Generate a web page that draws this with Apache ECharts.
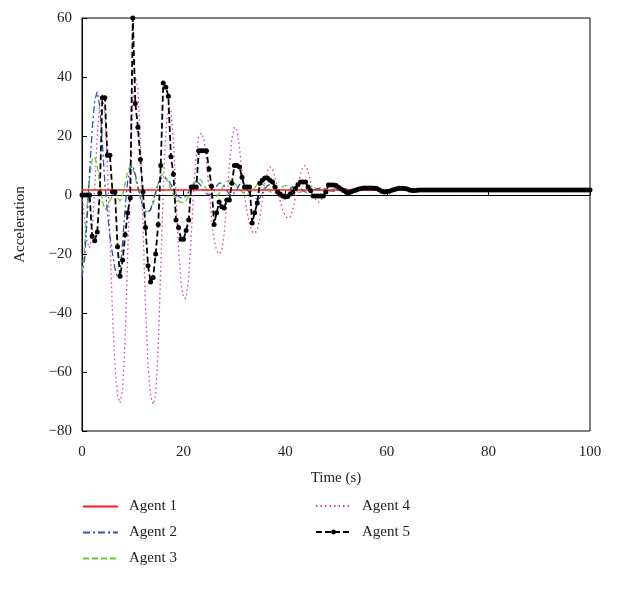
<!DOCTYPE html>
<html>
<head>
<meta charset="utf-8">
<script src="https://cdn.jsdelivr.net/npm/echarts@6/dist/echarts.min.js"></script>
<style>
html,body{margin:0;padding:0;background:#fff;}
#chart{width:626px;height:596px;}
</style>
</head>
<body>
<div id="chart"></div>
<script>
// ---- data ----
const seriesNames = ['Agent 1', 'Agent 2', 'Agent 3', 'Agent 4', 'Agent 5'];
const xTicks = [0, 20, 40, 60, 80, 100];
const yTicks = [-80, -60, -40, -20, 0, 20, 40, 60];

// sample times 0..60 s (0.5 s step)
const timeA = [
  0,0.5,1,1.5,2,2.5,3,3.5,4,4.5, 5,5.5,6,6.5,7,7.5,8,8.5,9,9.5,
  10,10.5,11,11.5,12,12.5,13,13.5,14,14.5, 15,15.5,16,16.5,17,17.5,18,18.5,19,19.5,
  20,20.5,21,21.5,22,22.5,23,23.5,24,24.5, 25,25.5,26,26.5,27,27.5,28,28.5,29,29.5,
  30,30.5,31,31.5,32,32.5,33,33.5,34,34.5, 35,35.5,36,36.5,37,37.5,38,38.5,39,39.5,
  40,40.5,41,41.5,42,42.5,43,43.5,44,44.5, 45,45.5,46,46.5,47,47.5,48,48.5,49,49.5,
  50,50.5,51,51.5,52,52.5,53,53.5,54,54.5, 55,55.5,56,56.5,57,57.5,58,58.5,59,59.5,
  60
];
// sample times 60.5..100 s
const timeB = [
  60.5,61,61.5,62,62.5,63,63.5,64,64.5,65,65.5,66,66.5,67,67.5,68,68.5,69,69.5,70,
  70.5,71,71.5,72,72.5,73,73.5,74,74.5,75,75.5,76,76.5,77,77.5,78,78.5,79,79.5,80,
  80.5,81,81.5,82,82.5,83,83.5,84,84.5,85,85.5,86,86.5,87,87.5,88,88.5,89,89.5,90,
  90.5,91,91.5,92,92.5,93,93.5,94,94.5,95,95.5,96,96.5,97,97.5,98,98.5,99,99.5,100
];

const agent1Time = [0, 100];
const agent1 = [1.7, 1.7];

// Agents 2-4: values at timeA, then final value at t = 100
const agent2 = [
  -28,-22,-8,8,22,32,35,30,18,4,  -6,-14,-20,-25,-28,-26,-16,-4,5,9,
  10,7,3,-1,-4,-5.5,-6,-5,-2,1,  4,5.5,6,5.5,5,3.5,2,0.5,-0.5,-1,
  -1,-0.5,1,2.5,4,4.5,4,3,1.5,0.5,  0,0.5,1.5,3,4,4,3,1.5,0.3,0,
  0.8,2,3.5,4,3.5,2,0.5,-0.5,-1,-1.5,  -1,0.5,2,3.2,3.5,3,2,1,0.5,0.3,
  0.5,1,2,2.8,3,2.8,2.2,1.5,1,0.8,  1,1.4,1.8,2.2,2.4,2.3,2,1.6,1.3,1.3,
  1.5,1.8,2,2.1,2,1.8,1.6,1.5,1.5,1.6,  1.7,1.8,1.9,1.9,1.8,1.7,1.6,1.6,1.7,1.7,
  1.7
];
const agent3 = [
  -26,-18,-4,6,12,13,10,4,-2,-5,  -4,-2,0,1,-1,-2,0,4,8,10,
  9,6,2,-1,-3,-5,-5.5,-5,-3,0,  4,6.5,7,6,4,2,0,-1,-2,-2.5,
  -2.5,-2,-0.5,1.5,3.5,5,5.5,5,3.5,2,  0.5,-0.5,-1,-0.5,0.5,2,3.5,4.5,5,4.5,
  4,3,2,1,0.3,0,0.5,1.5,2.5,3.5,  4,3.8,3,2,1.2,0.8,0.8,1.2,2,2.8,
  3.2,3.2,2.8,2.2,1.5,1,1,1.3,1.8,2.3,  2.6,2.6,2.3,1.9,1.5,1.3,1.3,1.5,1.8,2.1,
  2.2,2.1,1.9,1.6,1.5,1.5,1.6,1.8,1.9,1.9,  1.8,1.7,1.6,1.6,1.7,1.7,1.8,1.8,1.7,1.7,
  1.7
];
const agent4 = [
  0,-8,-16,-18,-12,2,20,31,34,28,  10,-15,-40,-58,-68,-70.5,-66,-48,-20,10,
  32,40,36,18,-10,-38,-58,-68,-71,-68,  -52,-25,2,22,30,29,18,0,-18,-30,
  -35,-35,-28,-14,2,14,20,21,19,12,  2,-8,-15,-19,-20,-19,-13,-2,10,19,
  23,22,16,8,0,-6,-10,-12.5,-13,-12,  -8,-2,4,8,9.5,9,6,2,-2,-5,
  -7,-8,-7.5,-5,-1,3,7,9.5,10,8,  4.5,1,-1.5,-2.5,-2,-0.5,1.5,3,3.5,3.2,
  2.5,1.8,1.2,1,1.2,1.5,1.9,2.2,2.3,2.2,  2,1.8,1.6,1.5,1.5,1.6,1.7,1.8,1.8,1.8,
  1.7
];
const agentEndValue = 1.7;

// Agent 5: values at timeA then timeB
const agent5 = [
  0,0,0,0,-14,-15.5,-12.5,0.7,33,33,  13.5,13.5,1,1,-17.5,-27.5,-22,-13.5,-6,-1,
  60,31,23,12,1,-11,-24,-29.5,-28,-20,  -10,10,38,36.5,33.5,13,7,-8.5,-11,-15,
  -15,-12,-8.5,2.7,2.7,2.7,15,15,15,15,  8.8,3,-10,-6,-2.4,-4,-4.4,-1.7,-1.7,4,
  10,10,9.5,6,2.7,2.7,2.7,-9.5,-6,-2.7,  4,5,5.8,5.8,5,4.4,2.7,1,0.3,-0.3,
  -0.7,-0.5,0.3,0.9,2.2,3.5,4.4,4.4,4.4,2.7,  1.5,-0.3,-0.3,-0.3,-0.3,-0.3,1,3.4,3.4,3.4,
  3.2,2.6,2,1.5,0.9,0.7,1.1,1.4,1.7,2,  2.2,2.4,2.4,2.4,2.4,2.3,2.2,1.8,1.3,1,
  1.1,
  1.3,1.6,1.9,2.1,2.3,2.3,2.2,2,1.7,1.5,1.5,1.6,1.7,1.7,1.7,1.7,1.7,1.7,1.7,1.7,
  1.7,1.7,1.7,1.7,1.7,1.7,1.7,1.7,1.7,1.7,1.7,1.7,1.7,1.7,1.7,1.7,1.7,1.7,1.7,1.7,
  1.7,1.7,1.7,1.7,1.7,1.7,1.7,1.7,1.7,1.7,1.7,1.7,1.7,1.7,1.7,1.7,1.7,1.7,1.7,1.7,
  1.7,1.7,1.7,1.7,1.7,1.7,1.7,1.7,1.7,1.7,1.7,1.7,1.7,1.7,1.7,1.7,1.7,1.7,1.7,1.7
];

// ---- build ----
function pairs(ts, vs) { return ts.map((t, i) => [t, vs[i]]); }
const timeAB = timeA.concat([100]);
const timeFull = timeA.concat(timeB);

const FONT = "'Liberation Serif', 'DejaVu Serif', serif";
const chart = echarts.init(document.getElementById('chart'), null, {renderer: 'canvas'});

const minus = v => String(v).replace('-', '\u2212');
const legendText = {fontFamily: FONT, fontSize: 15, color: '#222', padding: [0, 0, 0, 6]};
const noDot = {opacity: 0};

const option = {
  animation: false,
  backgroundColor: '#ffffff',
  grid: {left: 82, top: 18, width: 508, height: 413, show: true, borderColor: '#000', borderWidth: 1, backgroundColor: 'transparent'},
  xAxis: {
    type: 'value', min: 0, max: 100, interval: 20,
    name: 'Time (s)', nameLocation: 'middle', nameGap: 40,
    nameTextStyle: {fontFamily: FONT, fontSize: 15, color: '#222'},
    axisLine: {show: true, lineStyle: {color: '#000', width: 1}},
    axisTick: {show: true, inside: true, length: 5, lineStyle: {color: '#000'}},
    axisLabel: {fontFamily: FONT, fontSize: 15, color: '#222', margin: 14, formatter: v => xTicks.includes(v) ? String(v) : ''},
    splitLine: {show: false}
  },
  yAxis: {
    type: 'value', min: -80, max: 60, interval: 20,
    name: 'Acceleration', nameLocation: 'middle', nameGap: 54,
    nameTextStyle: {fontFamily: FONT, fontSize: 15, color: '#222'},
    axisLine: {show: true, lineStyle: {color: '#000', width: 1}},
    axisTick: {show: true, inside: true, length: 5, lineStyle: {color: '#000'}},
    axisLabel: {fontFamily: FONT, fontSize: 15, color: '#222', margin: 10, formatter: v => yTicks.includes(v) ? minus(v) : ''},
    splitLine: {show: false}
  },
  legend: [
    {
      data: [
        {name: seriesNames[0], itemStyle: noDot},
        {name: seriesNames[1], itemStyle: noDot},
        {name: seriesNames[2], itemStyle: noDot}
      ],
      orient: 'vertical', left: 82, top: 499, padding: 0, itemGap: 11, itemWidth: 35, itemHeight: 16,
      textStyle: legendText
    },
    {
      data: [
        {name: seriesNames[3], itemStyle: noDot},
        {name: seriesNames[4]}
      ],
      orient: 'vertical', left: 315, top: 498, padding: 0, itemGap: 10, itemWidth: 35, itemHeight: 6,
      textStyle: Object.assign({}, legendText, {lineHeight: 16})
    }
  ],
  series: [
    {
      name: seriesNames[0], type: 'line', data: pairs(agent1Time, agent1), symbol: 'none', z: 4,
      lineStyle: {color: '#ff1a1a', width: 1.4, type: 'solid'}, itemStyle: {color: '#ff1a1a'}
    },
    {
      name: seriesNames[1], type: 'line', data: pairs(timeAB, agent2.concat([agentEndValue]).slice(0, timeAB.length)), symbol: 'none', z: 3,
      lineStyle: {color: '#3352b8', width: 1.3, type: [7, 3, 2, 3]}, itemStyle: {color: '#3352b8'}
    },
    {
      name: seriesNames[2], type: 'line', data: pairs(timeAB, agent3.concat([agentEndValue]).slice(0, timeAB.length)), symbol: 'none', z: 2,
      lineStyle: {color: '#6cc63c', width: 1.3, type: [6, 3]}, itemStyle: {color: '#6cc63c'}
    },
    {
      name: seriesNames[3], type: 'line', data: pairs(timeAB, agent4.concat([agentEndValue]).slice(0, timeAB.length)), symbol: 'none', z: 1,
      lineStyle: {color: '#cc44aa', width: 1.3, type: [1.5, 3]}, itemStyle: {color: '#cc44aa'}
    },
    {
      name: seriesNames[4], type: 'line', data: pairs(timeFull, agent5), symbol: 'circle', symbolSize: 5, z: 5,
      lineStyle: {color: '#000', width: 1.8, type: [6, 3]}, itemStyle: {color: '#000'}
    }
  ]
};
chart.setOption(option);
</script>
</body>
</html>
